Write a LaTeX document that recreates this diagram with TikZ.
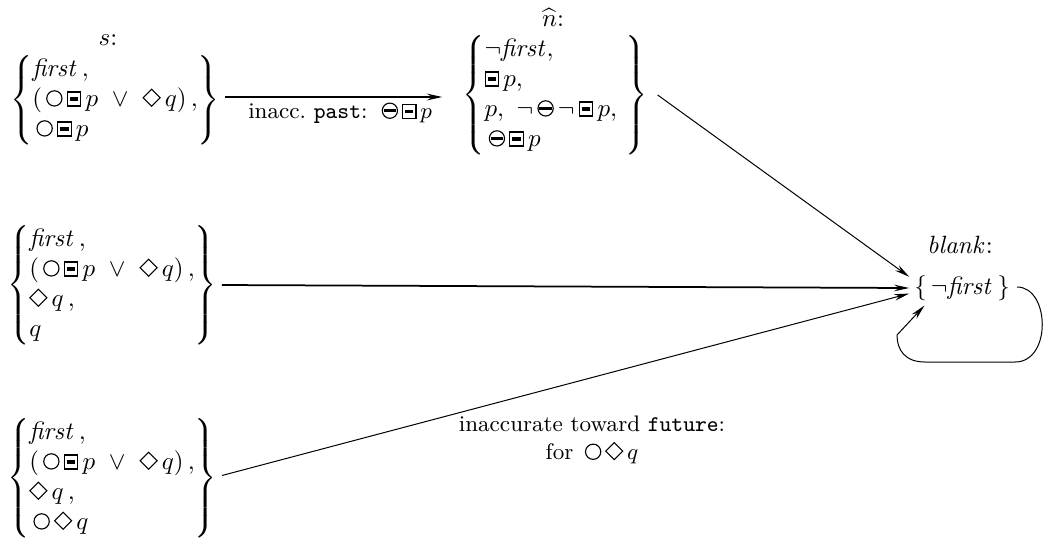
\documentclass[tikz,border=0pt]{standalone}
\usetikzlibrary{arrows.meta}
% modal symbols
\tikzset{sym/.style={baseline=0pt,x=1pt,y=1pt,line width=0.45pt}}
\newcommand{\cN}{\mathord{\,\tikz[sym]\draw (3.05,3.05) circle [radius=3.05];\,}}
\newcommand{\bM}{\mathord{\tikz[sym]{\draw (0,0) rectangle (5.4,5.6);\fill (1,2.1) rectangle (4.4,3.5);}\,}}
\newcommand{\oM}{\mathord{\,\tikz[sym]{\draw (3.05,3.05) circle [radius=3.05];\fill (0.6,2.35) rectangle (5.5,3.75);}\,}}
\newcommand{\dM}{\mathord{\tikz[sym]\draw (0,3.3) -- (3.4,6.7) -- (6.8,3.3) -- (3.4,-0.1) -- cycle;\,}}
\tikzset{
  setnode/.style={inner sep=0pt, outer sep=2pt},
  lbl/.style={inner sep=1pt},
  tip/.style={-{Stealth[length=6pt,width=2.6pt]}},
}
\begin{document}
\begin{tikzpicture}[x=0.4pt,y=-0.4pt]
\useasboundingbox (0,0) rectangle (1045,542);

\node[setnode] (s) at (115,100) {$\left\{\begin{array}{@{}l@{}}
  \mathit{first}\,, \\
  (\cN\bM p\ \vee\ \dM q)\,, \\
  \cN\bM p
\end{array}\right\}$};
\node[lbl] (sl) at (108,40) {$s$:};

\node[setnode] (n) at (555,95) {$\left\{\begin{array}{@{}l@{}}
  \neg\mathit{first}, \\
  \bM p, \\
  p,\ \neg\oM\neg\,\bM p, \\
  \oM\bM p
\end{array}\ \right\}$};
\node[lbl] (nl) at (553,17) {$\widehat{n}$:};

\node[setnode] (m) at (112,285) {$\left\{\begin{array}{@{}l@{}}
  \mathit{first}\,, \\
  (\cN\bM p\ \vee\ \dM q)\,, \\
  \dM q\,, \\
  q
\end{array}\right\}$};

\node[setnode] (b) at (112,478) {$\left\{\begin{array}{@{}l@{}}
  \mathit{first}\,, \\
  (\cN\bM p\ \vee\ \dM q)\,, \\
  \dM q\,, \\
  \cN\dM q
\end{array}\right\}$};

\node[setnode] (blank) at (962,288) {$\{\,\neg\mathit{first}\,\}$};
\node[lbl] (bl) at (960,245) {$\mathit{blank}$:};

% connectors
\draw[tip, line width=1pt] (s.east |- 0,97) -- node[below, pos=0.53, font=\small, inner sep=2pt] {inacc.\ \texttt{past}: $\oM\bM p$} ([xshift=-6pt]n.west |- 0,97);
\draw[tip, line width=0.4pt] ([xshift=2pt]n.east) -- (blank.168);
\draw[tip, line width=0.7pt] (m.east) -- (blank.west);
\draw[tip, line width=0.4pt] ([yshift=1pt]b.east) -- (blank.186);
\node[font=\small, align=center, inner sep=1pt] (fl) at (592,440) {inaccurate toward \texttt{future}:\\ for $\cN\dM q$};

\coordinate (lp1) at (1017,287);
\coordinate (lp2) at (897,335);
\draw[tip, line width=0.4pt] (lp1) .. controls (1050,287) and (1052,362) .. (1015,362) -- (925,362) .. controls (905,362) and (897,350) .. (lp2) -- (blank.205);
\end{tikzpicture}
\end{document}
